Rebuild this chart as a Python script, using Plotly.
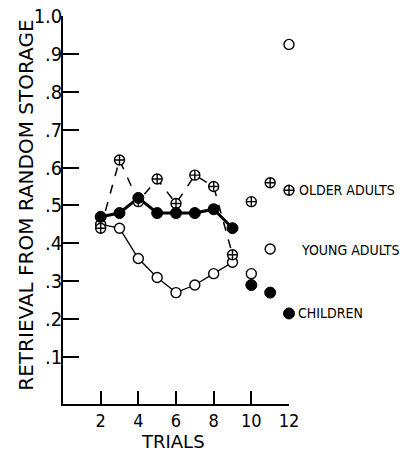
import plotly.graph_objects as go

trials_line = [2, 3, 4, 5, 6, 7, 8, 9]
trials_extra = [10, 11, 12]

older_line = [0.44, 0.62, 0.51, 0.57, 0.505, 0.58, 0.55, 0.37]
older_extra = [0.51, 0.56, 0.54]

young_line = [0.45, 0.44, 0.36, 0.31, 0.27, 0.29, 0.32, 0.35]
young_extra = [0.32, 0.385, 0.925]

child_line = [0.47, 0.48, 0.52, 0.48, 0.48, 0.48, 0.49, 0.44]
child_extra = [0.29, 0.27, 0.215]

y_ticks = [0.1, 0.2, 0.3, 0.4, 0.5, 0.6, 0.7, 0.8, 0.9, 1.0]
y_tick_labels = [".1", ".2", ".3", ".4", ".5", ".6", ".7", ".8", ".9", "1.0"]
x_ticks = [2, 4, 6, 8, 10, 12]

labels = ["OLDER ADULTS", "YOUNG ADULTS", "CHILDREN"]
label_y = [0.54, 0.383, 0.215]
label_x = [1.035, 1.044, 1.03]

NARROW = "Liberation Sans Narrow, DejaVu Sans Condensed, Liberation Sans, sans-serif"
WIDE = "DejaVu Sans, Liberation Sans, sans-serif"

fig = go.Figure()

# lines
fig.add_trace(go.Scatter(x=trials_line, y=young_line, mode="lines",
                         line=dict(color="black", width=1.3), hoverinfo="skip"))
fig.add_trace(go.Scatter(x=trials_line, y=older_line, mode="lines",
                         line=dict(color="black", width=1.5, dash="dash"), hoverinfo="skip"))
fig.add_trace(go.Scatter(x=trials_line, y=child_line, mode="lines",
                         line=dict(color="black", width=3), hoverinfo="skip"))

all_x = trials_line + trials_extra
# markers
fig.add_trace(go.Scatter(x=all_x, y=young_line + young_extra, mode="markers",
                         marker=dict(symbol="circle", size=10, color="white",
                                     line=dict(color="black", width=1.4)),
                         cliponaxis=False))
fig.add_trace(go.Scatter(x=all_x, y=older_line + older_extra, mode="markers",
                         marker=dict(symbol="circle-cross", size=10, color="white",
                                     line=dict(color="black", width=1.4)),
                         cliponaxis=False))
fig.add_trace(go.Scatter(x=all_x, y=child_line + child_extra, mode="markers",
                         marker=dict(symbol="circle", size=11, color="black",
                                     line=dict(color="black", width=1)),
                         cliponaxis=False))

for txt, xx, yy in zip(labels, label_x, label_y):
    fig.add_annotation(x=xx, y=yy, xref="paper", yref="y", text=txt, showarrow=False,
                       xanchor="left", yanchor="middle",
                       font=dict(family=NARROW, size=14, color="black"))

fig.add_annotation(x=-0.165, y=0.513, xref="paper", yref="paper",
                   text="RETRIEVAL FROM RANDOM STORAGE", textangle=-90, showarrow=False,
                   xanchor="center", yanchor="middle",
                   font=dict(family=WIDE, size=20, color="black"))
fig.add_annotation(x=0.487, y=-0.097, xref="paper", yref="paper",
                   text="TRIALS", showarrow=False, xanchor="center", yanchor="middle",
                   font=dict(family=WIDE, size=18, color="black"))

fig.update_layout(
    width=402, height=452,
    margin=dict(l=63, r=113, t=16, b=48, autoexpand=False),
    paper_bgcolor="white", plot_bgcolor="white",
    showlegend=False,
    xaxis=dict(range=[0, 12], tickvals=x_ticks, ticks="inside", ticklen=13,
               tickwidth=1.5, tickcolor="black", showline=True, linecolor="black",
               linewidth=1.5, showgrid=False, zeroline=False, automargin=False,
               tickfont=dict(family=NARROW, size=18, color="black")),
    yaxis=dict(range=[-0.024, 1.0], tickvals=y_ticks, ticktext=y_tick_labels,
               ticks="inside", ticklen=16, tickwidth=1.5, tickcolor="black",
               showline=True, linecolor="black", linewidth=1.5, showgrid=False,
               zeroline=False, automargin=False, ticklabelstandoff=-5,
               ticklabeloverflow="allow",
               tickfont=dict(family=NARROW, size=20, color="black")),
)

fig.write_html("out.html", config={"displayModeBar": False},
               post_script="document.body.style.margin='0';")
